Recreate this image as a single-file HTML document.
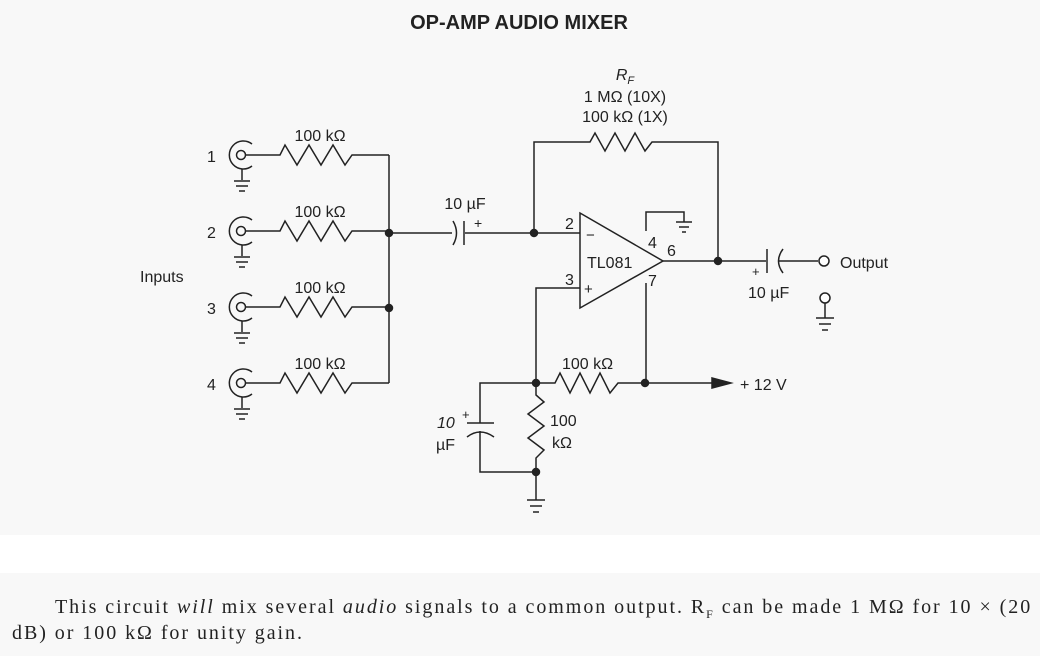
<!DOCTYPE html>
<html><head><meta charset="utf-8"><style>
html,body{margin:0;padding:0;background:#fff;}
body{width:1040px;height:656px;position:relative;overflow:hidden;}
.bg1{position:absolute;left:0;top:0;width:1040px;height:535px;background:#f8f8f8;}
.bg2{position:absolute;left:0;top:573px;width:1040px;height:83px;background:#f8f8f8;}
svg{position:absolute;left:0;top:0;}
.cap{position:absolute;font-family:"Liberation Serif",serif;font-size:20px;letter-spacing:1.95px;color:#222;white-space:nowrap;}
</style></head><body>
<div class="bg1"></div><div class="bg2"></div>
<svg width="1040" height="656" viewBox="0 0 1040 656" font-family="Liberation Sans, sans-serif" fill="none" stroke="#222" stroke-width="1.5">
<text x="519" y="29" font-size="20" font-weight="bold" text-anchor="middle" fill="#222" stroke="none">OP-AMP AUDIO MIXER</text>
<g fill="#222" stroke="none" font-size="16">
<text x="140" y="282">Inputs</text>
<text x="207" y="162">1</text><text x="207" y="238">2</text><text x="207" y="314">3</text><text x="207" y="390">4</text>
<text x="320" y="141" text-anchor="middle">100 kΩ</text>
<text x="320" y="217" text-anchor="middle">100 kΩ</text>
<text x="320" y="293" text-anchor="middle">100 kΩ</text>
<text x="320" y="369" text-anchor="middle">100 kΩ</text>
<text x="465" y="209" text-anchor="middle">10 µF</text>
<text x="474" y="228" font-size="14">+</text>
<text x="625" y="80" text-anchor="middle" font-style="italic">R<tspan font-size="11" dy="4">F</tspan></text>
<text x="625" y="102" text-anchor="middle">1 MΩ (10X)</text>
<text x="625" y="122" text-anchor="middle">100 kΩ (1X)</text>
<text x="565" y="229">2</text><text x="565" y="285">3</text>
<text x="586" y="240" font-size="15">−</text><text x="584" y="294" font-size="15">+</text>
<text x="587" y="268">TL081</text>
<text x="648" y="248">4</text><text x="667" y="256">6</text><text x="648" y="286">7</text>
<text x="840" y="268">Output</text>
<text x="752" y="276" font-size="13">+</text>
<text x="748" y="298">10 µF</text>
<text x="740" y="390">+ 12 V</text>
<text x="562" y="369">100 kΩ</text>
<text x="437" y="428" font-style="italic">10</text>
<text x="436" y="450">µF</text>
<text x="462" y="419" font-size="13">+</text>
<text x="550" y="426">100</text>
<text x="552" y="448">kΩ</text>
</g>
<g id="j">
<path d="M252 144 A14 14 0 1 0 252 166"/>
<circle cx="241" cy="155" r="4.5"/>
<path d="M245.5 155 H280 L285 145 L297 165 L309 145 L321 165 L333 145 L345 165 L352 155 H389"/>
<path d="M242 169 V180 M234 181 H250 M236 186 H248 M239 191 H245"/>
</g>
<use href="#j" y="76"/><use href="#j" y="152"/><use href="#j" y="228"/>
<path d="M389 155 V383"/>
<circle cx="389" cy="233" r="3.5" fill="#222"/><circle cx="389" cy="308" r="3.5" fill="#222"/>
<path d="M389 233 H452 M465 233 H534"/>
<path d="M453 221 Q460 233 453 245"/><path d="M464 221 V245"/>
<circle cx="534" cy="233" r="3.5" fill="#222"/>
<path d="M534 233 V142 H590 L595 133 L605 151 L615 133 L625 151 L635 133 L645 151 L652 142 H718 V261"/>
<path d="M534 233 H580"/>
<path d="M580 213 L663 261 L580 308 Z"/>
<path d="M646 231 V212 H684 V222 M676 222 H692 M679 227 H689 M682 232 H686"/>
<path d="M663 261 H766 M778 261 H818"/>
<circle cx="718" cy="261" r="3.5" fill="#222"/>
<path d="M767 249 V273"/><path d="M783 249 Q774 261 783 273"/>
<circle cx="824" cy="261" r="5" fill="#fff"/>
<circle cx="825" cy="298" r="5" fill="#fff"/>
<path d="M825 303 V318 M816 318 H834 M819 324 H831 M822 330 H828"/>
<path d="M646 283 V383"/>
<path d="M580 288 H536 V383"/>
<path d="M536 383 H555 L560 373 L570 393 L580 373 L590 393 L600 373 L610 393 L618 383 H720"/>
<path d="M712 378 L731 383 L712 388 Z" fill="#222"/>
<circle cx="536" cy="383" r="3.5" fill="#222"/><circle cx="645" cy="383" r="3.5" fill="#222"/>
<path d="M536 383 H480 V423 M467 423 H494 M467 437 Q480 427 494 437 M480 431 V472 H536"/>
<path d="M536 383 V395 L544 402 L528 414 L544 426 L528 438 L544 450 L536 458 V500 M527 500 H545 M530 506 H542 M533 512 H539"/>
<circle cx="536" cy="472" r="3.5" fill="#222"/>
</svg>
<div class="cap" style="left:55px;top:596px;">This circuit <i>will</i> mix several <i>audio</i> signals to a common output. R<sub style="font-size:12px">F</sub> can be made 1 MΩ for 10 × (20</div>
<div class="cap" style="left:12px;top:622px;">dB) or 100 kΩ for unity gain.</div>
</body></html>
